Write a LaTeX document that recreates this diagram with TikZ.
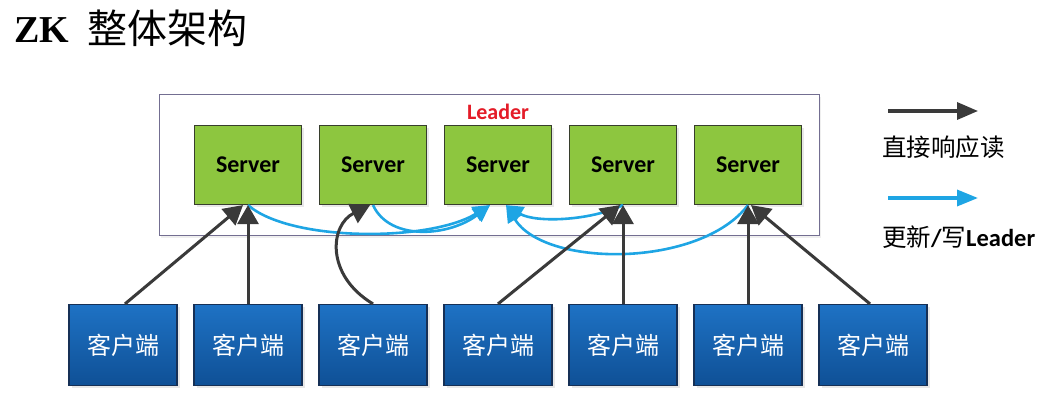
\documentclass[tikz,border=0pt]{standalone}
\usepackage{fontspec}
\usetikzlibrary{arrows.meta,shadows}
\newfontfamily\calfont{Carlito}
\newfontfamily\cjkfont{Noto Sans CJK SC}
\newfontfamily\serfont{Liberation Serif}
\definecolor{srvgreen}{RGB}{141,198,63}
\definecolor{srvborder}{RGB}{55,62,45}
\definecolor{clitop}{RGB}{30,114,196}
\definecolor{clibot}{RGB}{15,80,150}
\definecolor{cliborder}{RGB}{22,48,86}
\definecolor{arrblue}{RGB}{30,165,228}
\definecolor{arrdark}{RGB}{58,58,58}
\definecolor{grpborder}{RGB}{115,110,145}
\definecolor{leadred}{RGB}{228,28,40}
\begin{document}
\begin{tikzpicture}[x=1pt,y=-1pt,
  server/.style={draw=srvborder, line width=1.2pt, fill=srvgreen,
    minimum width=107pt, minimum height=79pt, inner sep=0pt,
    font=\calfont\bfseries\fontsize{24}{28}\selectfont,
    drop shadow={opacity=0.18, shadow xshift=2.5pt, shadow yshift=-2.5pt}},
  client/.style={draw=cliborder, line width=1.2pt, top color=clitop, bottom color=clibot,
    minimum width=108pt, minimum height=81pt, inner sep=0pt, text=white,
    font=\cjkfont\fontsize{24}{28}\selectfont,
    drop shadow={opacity=0.18, shadow xshift=2.5pt, shadow yshift=-2.5pt}},
  group/.style={draw=grpborder, line width=1.5pt, fill=white,
    minimum width=660pt, minimum height=141pt, inner sep=0pt,
    drop shadow={opacity=0.12, shadow xshift=2pt, shadow yshift=-2pt}},
  blu/.style={draw=arrblue, line width=2.6pt, -{Triangle[length=17pt,width=16pt]}},
  dk/.style={draw=arrdark, line width=3pt, -{Triangle[length=19pt,width=21pt]}},
  legtext/.style={anchor=west, inner sep=0pt, font=\cjkfont\fontsize{24.5}{28}\selectfont}
]
\useasboundingbox (0,0) rectangle (1048,414);
\fill[white] (0,0) rectangle (1048,414);

% title
\node[anchor=base west, inner sep=0pt, font=\serfont\bfseries\fontsize{38}{40}\selectfont] (zk) at (14,43) {ZK};
\node[anchor=base west, inner sep=0pt, font=\cjkfont\fontsize{40}{44}\selectfont] (ttl) at (87,44) {整体架构};

% server group
\node[group] (grp) at (489.3,165.2) {};
\node[font=\calfont\bfseries\fontsize{22}{26}\selectfont, text=leadred, inner sep=0pt] (lead) at (498,112) {Leader};

\node[server] (s1) at (248,165) {Server};
\node[server] (s2) at (373,165) {Server};
\node[server] (s3) at (498,165) {Server};
\node[server] (s4) at (623,165) {Server};
\node[server] (s5) at (748,165) {Server};

% clients
\node[client] (c1) at (123,345) {客户端};
\node[client] (c2) at (248,345) {客户端};
\node[client] (c3) at (373,345) {客户端};
\node[client] (c4) at (498,345) {客户端};
\node[client] (c5) at (623,345) {客户端};
\node[client] (c6) at (748,345) {客户端};
\node[client] (c7) at (873,345) {客户端};

% update / write leader (blue)
\draw[blu] (s1.south) .. controls (290,242) and (430,242) .. ([xshift=-8pt]s3.south);
\draw[blu] (s2.south) .. controls (390,242) and (450,236) .. ([xshift=-8pt]s3.south);
\draw[blu] (s4.south) .. controls (590,221) and (535,223) .. ([xshift=8pt]s3.south);
\draw[blu] (s5.south) .. controls (700,268) and (545,268) .. ([xshift=8pt]s3.south);

% direct read (dark)
\draw[dk] ([xshift=2pt]c1.north) -- ([xshift=-5pt]s1.south);
\draw[dk] (c2.north) -- (s1.south);
\draw[dk] (c3.north) .. controls (325,275) and (330,225) .. ([xshift=-3pt]s2.south);
\draw[dk] (c4.north) -- ([xshift=-3pt]s4.south);
\draw[dk] (c5.north) -- (s4.south);
\draw[dk] (c6.north) -- (s5.south);
\draw[dk] ([xshift=-3pt]c7.north) -- ([xshift=3pt]s5.south);

% legend
\coordinate (la1) at (888,111);
\coordinate (la2) at (978,111);
\draw[draw=arrdark, line width=3.4pt, -{Triangle[length=21pt,width=17pt]}] (la1) -- (la2);
\node[legtext] (lt1) at (882,147) {直接响应读};
\coordinate (lb1) at (888,198);
\coordinate (lb2) at (978,198);
\draw[draw=arrblue, line width=3.4pt, -{Triangle[length=21pt,width=16pt]}] (lb1) -- (lb2);
\node[legtext] (lt2) at (882,237) {更新{\calfont\bfseries /}写{\calfont\bfseries Leader}};
\end{tikzpicture}
\end{document}
